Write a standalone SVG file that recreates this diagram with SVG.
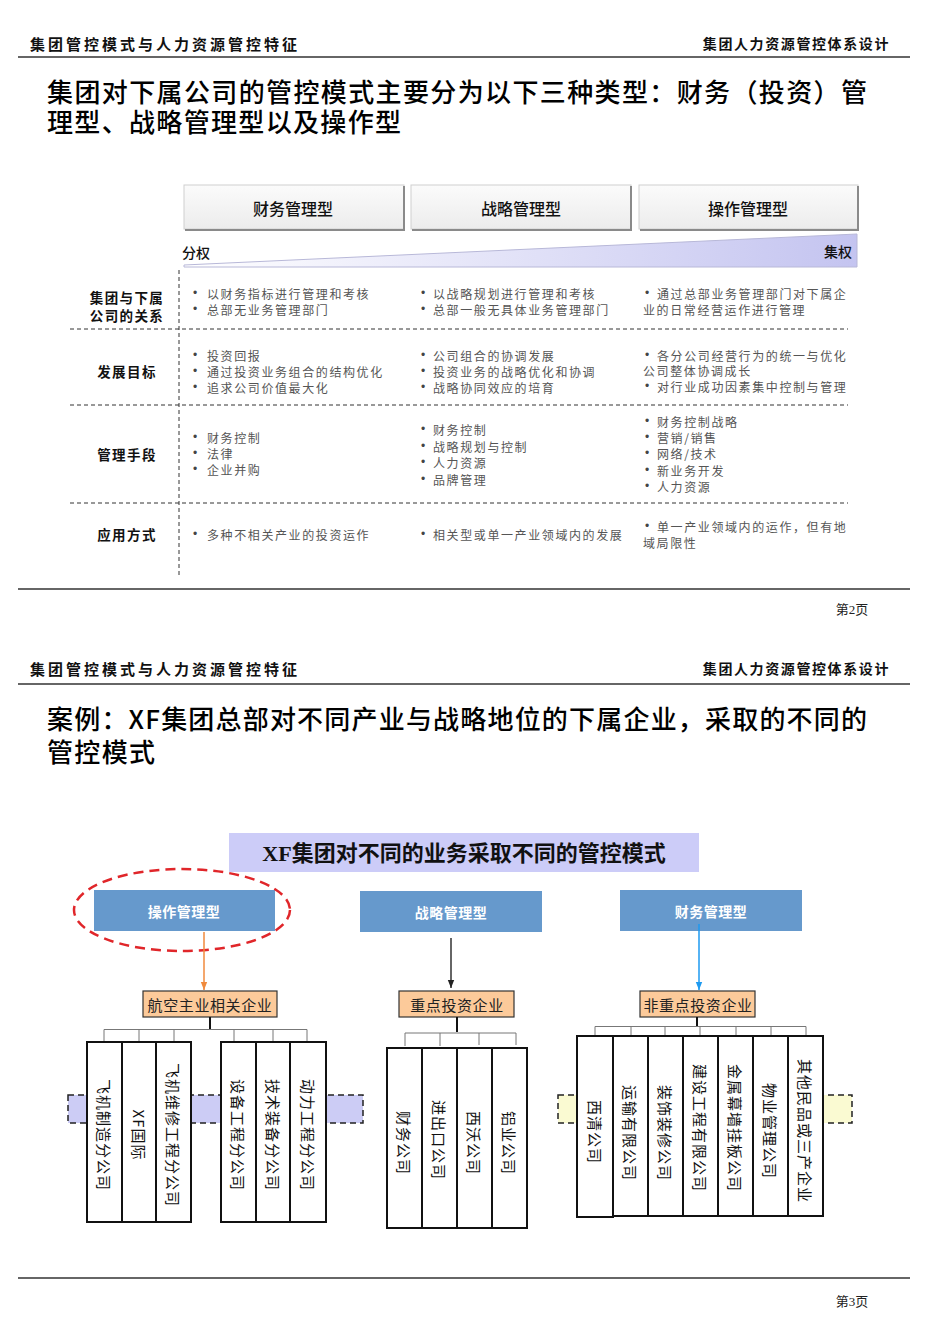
<svg xmlns="http://www.w3.org/2000/svg" width="950" height="1344" viewBox="0 0 950 1344">
<defs>
<style>
text{font-family:"Noto Sans CJK SC","Liberation Sans",sans-serif;dominant-baseline:central}
.hl{font-size:15px;font-weight:bold;fill:#111;letter-spacing:3px}
.hr{font-size:14px;font-weight:bold;fill:#111;letter-spacing:1.6px;text-anchor:end}
.ttl{font-size:26px;font-weight:500;fill:#000}
.th{font-size:16px;font-weight:500;fill:#111;text-anchor:middle}
.lbl{font-size:13.5px;font-weight:bold;fill:#111;text-anchor:middle;letter-spacing:1.4px}
.b{font-size:12px;fill:#555;letter-spacing:1.6px}
.d{font-family:"Liberation Sans",sans-serif;font-size:12px;fill:#444;letter-spacing:0}
.pg{font-family:"Liberation Serif","Noto Sans CJK SC",serif;font-size:13px;fill:#222;text-anchor:middle}
.bl{font-size:14px;font-weight:bold;fill:#fff;text-anchor:middle;letter-spacing:0.5px}
.org{font-size:15px;fill:#222;text-anchor:middle;letter-spacing:0.6px}
.v{font-size:15px;fill:#111;text-anchor:middle;letter-spacing:1px}
.rule{stroke:#333;stroke-width:1.5}
.dash{stroke:#333;stroke-width:1;stroke-dasharray:4 3;fill:none}
.hbox{fill:url(#hg);stroke:#d0d0d0;stroke-width:1}
.hsh{stroke:#8a8a8a;stroke-width:2;fill:none}
.blue{fill:#6699cc}
.obox{fill:#fcca9a;stroke:#333;stroke-width:1.2}
.vbox{fill:#fff;stroke:#111;stroke-width:2}
.tree{stroke:#777;stroke-width:1;fill:none}
.stem{stroke:#111;stroke-width:2;fill:none}
</style>
<linearGradient id="hg" x1="0" y1="0" x2="0" y2="1"><stop offset="0" stop-color="#fbfbfb"/><stop offset="1" stop-color="#ececec"/></linearGradient>
<linearGradient id="wg" x1="0" y1="0" x2="1" y2="0"><stop offset="0" stop-color="#ffffff"/><stop offset="1" stop-color="#c4c4f0"/></linearGradient>
<marker id="mO" viewBox="0 0 10 10" refX="10" refY="5" markerWidth="8" markerHeight="8" markerUnits="userSpaceOnUse" orient="auto"><path d="M0,1 L10,5 L0,9 z" fill="#f08a3c"/></marker>
<marker id="mK" viewBox="0 0 10 10" refX="10" refY="5" markerWidth="8" markerHeight="8" markerUnits="userSpaceOnUse" orient="auto"><path d="M0,1 L10,5 L0,9 z" fill="#222"/></marker>
<marker id="mB" viewBox="0 0 10 10" refX="10" refY="5" markerWidth="8" markerHeight="8" markerUnits="userSpaceOnUse" orient="auto"><path d="M0,1 L10,5 L0,9 z" fill="#1e9af0"/></marker>
</defs>
<rect width="950" height="1344" fill="#fff"/>

<g id="page1-header">
<text class="hl" x="30" y="43">集团管控模式与人力资源管控特征</text>
<text class="hr" x="890" y="43">集团人力资源管控体系设计</text>
<line class="rule" x1="18" y1="57" x2="910" y2="57"/>
</g>
<g id="page1-title">
<text class="ttl" x="47" y="90" textLength="820" lengthAdjust="spacing">集团对下属公司的管控模式主要分为以下三种类型：财务（投资）管</text>
<text class="ttl" x="47" y="120" textLength="354" lengthAdjust="spacing">理型、战略管理型以及操作型</text>
</g>

<g id="hdr-finance">
<rect class="hbox" x="184" y="185" width="220" height="44"/>
<path class="hsh" d="M404,186 V230 H185"/>
<text class="th" x="293" y="208">财务管理型</text>
</g>
<g id="hdr-strategy">
<rect class="hbox" x="411" y="185" width="220" height="44"/>
<path class="hsh" d="M631,186 V230 H412"/>
<text class="th" x="521" y="208">战略管理型</text>
</g>
<g id="hdr-operation">
<rect class="hbox" x="639" y="185" width="219" height="44"/>
<path class="hsh" d="M858,186 V230 H640"/>
<text class="th" x="748" y="208">操作管理型</text>
</g>

<g id="wedge">
<polygon points="184,265 857,234 857,267 184,267" fill="url(#wg)" stroke="#b8b8d8" stroke-width="1"/>
<text x="182" y="252" style="font-size:14px;fill:#111;font-weight:500">分权</text>
<text x="852" y="251" style="font-size:14px;fill:#111;font-weight:500;text-anchor:end">集权</text>
</g>

<g id="table-grid">
<line class="dash" x1="179" y1="270" x2="179" y2="576"/>
<line class="dash" x1="70" y1="329" x2="848" y2="329"/>
<line class="dash" x1="70" y1="405" x2="848" y2="405"/>
<line class="dash" x1="70" y1="503" x2="848" y2="503"/>
</g>

<g id="row-labels">
<text class="lbl" x="127" y="297">集团与下属</text>
<text class="lbl" x="127" y="315">公司的关系</text>
<text class="lbl" x="127" y="371">发展目标</text>
<text class="lbl" x="127" y="454">管理手段</text>
<text class="lbl" x="127" y="534">应用方式</text>
</g>

<g id="row-relation">
<text class="b" y="293"><tspan class="d" x="193">•</tspan><tspan x="207">以财务指标进行管理和考核</tspan></text>
<text class="b" y="309"><tspan class="d" x="193">•</tspan><tspan x="207">总部无业务管理部门</tspan></text>
<text class="b" y="293"><tspan class="d" x="421">•</tspan><tspan x="433">以战略规划进行管理和考核</tspan></text>
<text class="b" y="309"><tspan class="d" x="421">•</tspan><tspan x="433">总部一般无具体业务管理部门</tspan></text>
<text class="b" y="293"><tspan class="d" x="645">•</tspan><tspan x="657">通过总部业务管理部门对下属企</tspan></text>
<text class="b" x="643" y="309">业的日常经营运作进行管理</text>
</g>
<g id="row-goal">
<text class="b" y="355"><tspan class="d" x="193">•</tspan><tspan x="207">投资回报</tspan></text>
<text class="b" y="371"><tspan class="d" x="193">•</tspan><tspan x="207">通过投资业务组合的结构优化</tspan></text>
<text class="b" y="387"><tspan class="d" x="193">•</tspan><tspan x="207">追求公司价值最大化</tspan></text>
<text class="b" y="355"><tspan class="d" x="421">•</tspan><tspan x="433">公司组合的协调发展</tspan></text>
<text class="b" y="371"><tspan class="d" x="421">•</tspan><tspan x="433">投资业务的战略优化和协调</tspan></text>
<text class="b" y="387"><tspan class="d" x="421">•</tspan><tspan x="433">战略协同效应的培育</tspan></text>
<text class="b" y="355"><tspan class="d" x="645">•</tspan><tspan x="657">各分公司经营行为的统一与优化</tspan></text>
<text class="b" x="643" y="370.5">公司整体协调成长</text>
<text class="b" y="386"><tspan class="d" x="645">•</tspan><tspan x="657">对行业成功因素集中控制与管理</tspan></text>
</g>
<g id="row-means">
<text class="b" y="437"><tspan class="d" x="193">•</tspan><tspan x="207">财务控制</tspan></text>
<text class="b" y="453"><tspan class="d" x="193">•</tspan><tspan x="207">法律</tspan></text>
<text class="b" y="469"><tspan class="d" x="193">•</tspan><tspan x="207">企业并购</tspan></text>
<text class="b" y="429"><tspan class="d" x="421">•</tspan><tspan x="433">财务控制</tspan></text>
<text class="b" y="445.5"><tspan class="d" x="421">•</tspan><tspan x="433">战略规划与控制</tspan></text>
<text class="b" y="462"><tspan class="d" x="421">•</tspan><tspan x="433">人力资源</tspan></text>
<text class="b" y="478.5"><tspan class="d" x="421">•</tspan><tspan x="433">品牌管理</tspan></text>
<text class="b" y="421"><tspan class="d" x="645">•</tspan><tspan x="657">财务控制战略</tspan></text>
<text class="b" y="437"><tspan class="d" x="645">•</tspan><tspan x="657">营销/销售</tspan></text>
<text class="b" y="453"><tspan class="d" x="645">•</tspan><tspan x="657">网络/技术</tspan></text>
<text class="b" y="469.5"><tspan class="d" x="645">•</tspan><tspan x="657">新业务开发</tspan></text>
<text class="b" y="486"><tspan class="d" x="645">•</tspan><tspan x="657">人力资源</tspan></text>
</g>
<g id="row-usage">
<text class="b" y="534"><tspan class="d" x="193">•</tspan><tspan x="207">多种不相关产业的投资运作</tspan></text>
<text class="b" y="534"><tspan class="d" x="421">•</tspan><tspan x="433">相关型或单一产业领域内的发展</tspan></text>
<text class="b" y="526"><tspan class="d" x="645">•</tspan><tspan x="657">单一产业领域内的运作，但有地</tspan></text>
<text class="b" x="643" y="542">域局限性</text>
</g>

<g id="page1-footer">
<line class="rule" x1="18" y1="589" x2="910" y2="589"/>
<text class="pg" x="852" y="609">第2页</text>
</g>

<g id="page2-header">
<text class="hl" x="30" y="668">集团管控模式与人力资源管控特征</text>
<text class="hr" x="890" y="668">集团人力资源管控体系设计</text>
<line class="rule" x1="18" y1="684" x2="910" y2="684"/>
</g>
<g id="page2-title">
<text class="ttl" x="47" y="717" textLength="820" lengthAdjust="spacing">案例：XF集团总部对不同产业与战略地位的下属企业，采取的不同的</text>
<text class="ttl" x="47" y="750" textLength="108" lengthAdjust="spacing">管控模式</text>
</g>

<g id="banner">
<rect x="229" y="833" width="470" height="39" fill="#ccccf8"/>
<text x="464" y="853" style="font-family:'Liberation Serif','Noto Sans CJK SC',serif;font-size:22px;font-weight:bold;fill:#111;text-anchor:middle">XF集团对不同的业务采取不同的管控模式</text>
</g>

<g id="mode-operation">
<rect class="blue" x="94" y="890" width="181" height="41"/>
<text class="bl" x="184" y="911">操作管理型</text>
<ellipse cx="182" cy="910" rx="108" ry="41" fill="none" stroke="#e0262a" stroke-width="2.5" stroke-dasharray="10 6"/>
</g>
<g id="mode-strategy">
<rect class="blue" x="360" y="891" width="182" height="41"/>
<text class="bl" x="451" y="912">战略管理型</text>
</g>
<g id="mode-finance">
<rect class="blue" x="620" y="890" width="182" height="41"/>
<text class="bl" x="711" y="911">财务管理型</text>
</g>

<g id="cat-aviation">
<rect class="obox" x="143" y="991" width="134" height="26"/>
<text class="org" x="210" y="1004">航空主业相关企业</text>
</g>
<g id="cat-key">
<rect class="obox" x="399" y="991" width="115" height="26"/>
<text class="org" x="457" y="1004">重点投资企业</text>
</g>
<g id="cat-nonkey">
<rect class="obox" x="640" y="991" width="115" height="26"/>
<text class="org" x="698" y="1004">非重点投资企业</text>
</g>

<g id="connectors">
<line x1="204" y1="932" x2="204" y2="990" stroke="#f08a3c" stroke-width="1.5" marker-end="url(#mO)"/>
<line x1="451" y1="938" x2="451" y2="988" stroke="#333" stroke-width="1.5" marker-end="url(#mK)"/>
<line x1="699" y1="924" x2="699" y2="990" stroke="#1e9af0" stroke-width="1.5" marker-end="url(#mB)"/>
<path class="stem" d="M210,1017 V1029"/>
<path class="tree" d="M104,1042 V1029.5 H307 V1042 M139,1029.5 V1042 M174,1029.5 V1042 M234,1029.5 V1042 M273,1029.5 V1042"/>
<path class="stem" d="M457,1017 V1032"/>
<path class="tree" d="M405,1046 V1033 H516 V1045 M440,1033 V1046 M479,1033 V1045"/>
<path class="stem" d="M697,1017 V1026"/>
<path class="tree" d="M595,1036 V1026.5 H806 V1036 M631,1026.5 V1036 M665,1026.5 V1036 M700,1026.5 V1036 M736,1026.5 V1036 M771,1026.5 V1036"/>
</g>

<g id="band-aviation">
<rect x="68" y="1095" width="295" height="28" fill="#ccccf5" stroke="#222" stroke-width="1.5" stroke-dasharray="6 4"/>
</g>
<g id="band-nonkey">
<rect x="558" y="1095" width="294" height="28" fill="#fafad2" stroke="#222" stroke-width="1.5" stroke-dasharray="6 4"/>
</g>

<g id="co-feijizhizao"><rect class="vbox" x="87" y="1042" width="35" height="180"/><text class="v" transform="translate(104.5,1135) rotate(90)">飞机制造分公司</text></g>
<g id="co-xfguoji"><rect class="vbox" x="122" y="1042" width="34" height="180"/><text class="v" transform="translate(139,1135) rotate(90)">XF国际</text></g>
<g id="co-feijiweixiu"><rect class="vbox" x="156" y="1042" width="35" height="180"/><text class="v" transform="translate(173.5,1135) rotate(90)">飞机维修工程分公司</text></g>
<g id="co-shebei"><rect class="vbox" x="221" y="1042" width="35" height="180"/><text class="v" transform="translate(238.5,1135) rotate(90)">设备工程分公司</text></g>
<g id="co-jishu"><rect class="vbox" x="256" y="1042" width="34" height="180"/><text class="v" transform="translate(273,1135) rotate(90)">技术装备分公司</text></g>
<g id="co-dongli"><rect class="vbox" x="290" y="1042" width="36" height="180"/><text class="v" transform="translate(308,1135) rotate(90)">动力工程分公司</text></g>

<g id="co-caiwu"><rect class="vbox" x="387" y="1048" width="35" height="180"/><text class="v" transform="translate(404.5,1143) rotate(90)">财务公司</text></g>
<g id="co-jinchukou"><rect class="vbox" x="422" y="1048" width="35" height="180"/><text class="v" transform="translate(439.5,1140) rotate(90)">进出口公司</text></g>
<g id="co-xiwo"><rect class="vbox" x="457" y="1048" width="35" height="180"/><text class="v" transform="translate(474.5,1143) rotate(90)">西沃公司</text></g>
<g id="co-lvye"><rect class="vbox" x="492" y="1048" width="35" height="180"/><text class="v" transform="translate(509.5,1143) rotate(90)">铝业公司</text></g>

<g id="co-xiqing"><rect class="vbox" x="577" y="1036" width="36" height="181"/><text class="v" transform="translate(595,1132) rotate(90)">西清公司</text></g>
<g id="co-yunshu"><rect class="vbox" x="613" y="1036" width="35" height="180"/><text class="v" transform="translate(630.5,1133) rotate(90)">运输有限公司</text></g>
<g id="co-zhuangshi"><rect class="vbox" x="648" y="1036" width="35" height="180"/><text class="v" transform="translate(665.5,1133) rotate(90)">装饰装修公司</text></g>
<g id="co-jianshe"><rect class="vbox" x="683" y="1036" width="35" height="180"/><text class="v" transform="translate(700.5,1128) rotate(90)">建设工程有限公司</text></g>
<g id="co-jinshu"><rect class="vbox" x="718" y="1036" width="35" height="180"/><text class="v" transform="translate(735.5,1128) rotate(90)">金属幕墙挂板公司</text></g>
<g id="co-wuye"><rect class="vbox" x="753" y="1036" width="35" height="180"/><text class="v" transform="translate(770.5,1131) rotate(90)">物业管理公司</text></g>
<g id="co-qita"><rect class="vbox" x="788" y="1036" width="35" height="180"/><text class="v" transform="translate(805.5,1131) rotate(90)">其他民品或三产企业</text></g>

<g id="page2-footer">
<line class="rule" x1="18" y1="1278" x2="910" y2="1278"/>
<text class="pg" x="852" y="1301">第3页</text>
</g>
</svg>
